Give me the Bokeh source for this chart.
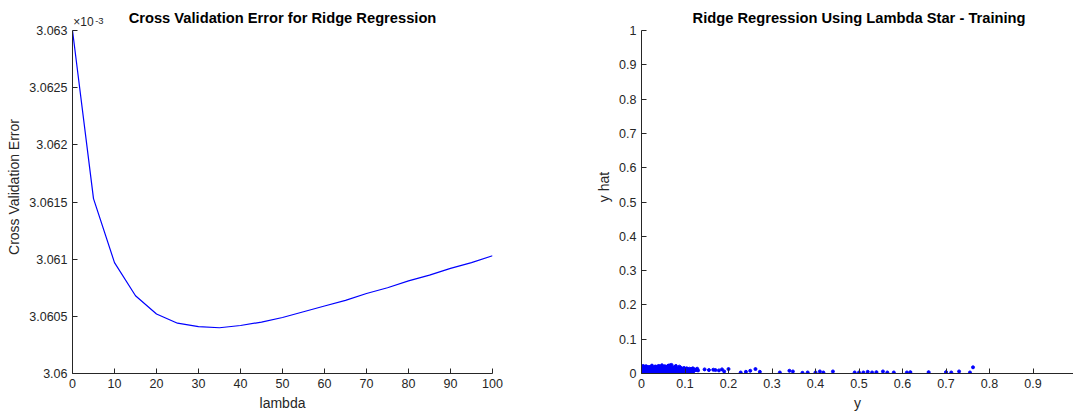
from bokeh.plotting import figure
from bokeh.layouts import row
from bokeh.models import FixedTicker, Label, Range1d
from bokeh.embed import file_html
from bokeh.resources import INLINE

# ---- data: cross validation error (units of 1e-3) ----
lambdas = [0, 5, 10, 15, 20, 25, 30, 35, 40, 45, 50, 55, 60, 65, 70, 75, 80, 85, 90, 95, 100]
cv_err = [3.06300, 3.06153, 3.06097, 3.06068, 3.06052, 3.06044, 3.06041, 3.06040, 3.06042,
          3.06045, 3.06049, 3.06054, 3.06059, 3.06064, 3.06070, 3.06075, 3.06081, 3.06086,
          3.06092, 3.06097, 3.06103]
left_xticks = [0, 10, 20, 30, 40, 50, 60, 70, 80, 90, 100]
left_yticks = [3.06, 3.0605, 3.061, 3.0615, 3.062, 3.0625, 3.063]
left_ylabels = ["3.06", "3.0605", "3.061", "3.0615", "3.062", "3.0625", "3.063"]
left_title = "Cross Validation Error for Ridge Regression"
exponent_base = "×10"
exponent_power = "-3"

# ---- data: training y vs y hat ----
y_true = [0.002, 0.004, 0.005, 0.006, 0.008, 0.009, 0.010, 0.011, 0.012, 0.013, 0.014, 0.015,
          0.016, 0.017, 0.018, 0.019, 0.020, 0.021, 0.022, 0.023, 0.024, 0.025, 0.026, 0.027,
          0.028, 0.029, 0.030, 0.031, 0.032, 0.033, 0.034, 0.035, 0.036, 0.037, 0.038, 0.039,
          0.040, 0.041, 0.042, 0.043, 0.044, 0.045, 0.046, 0.047, 0.048, 0.049, 0.050, 0.051,
          0.052, 0.053, 0.054, 0.055, 0.056, 0.057, 0.058, 0.059, 0.060, 0.061, 0.062, 0.063,
          0.064, 0.065, 0.066, 0.067, 0.068, 0.069, 0.070, 0.072, 0.074, 0.076, 0.078, 0.080,
          0.082, 0.084, 0.086, 0.088, 0.090, 0.092, 0.094, 0.096, 0.098, 0.100, 0.102, 0.104,
          0.106, 0.108, 0.110, 0.112, 0.114, 0.116, 0.118, 0.120, 0.122, 0.125, 0.128, 0.130,
          0.003, 0.007, 0.012, 0.017, 0.022, 0.027, 0.033, 0.038, 0.044, 0.049, 0.055, 0.060,
          0.066, 0.071, 0.077, 0.083, 0.089, 0.095, 0.101, 0.107, 0.113, 0.119,
          0.004, 0.010, 0.016, 0.024, 0.031, 0.039, 0.047, 0.053, 0.062, 0.069, 0.079, 0.087,
          0.145, 0.155, 0.165, 0.170, 0.178, 0.185, 0.190, 0.200, 0.228, 0.240, 0.250, 0.262,
          0.272, 0.318, 0.340, 0.348, 0.370, 0.382, 0.400, 0.410, 0.418, 0.440, 0.490, 0.500,
          0.510, 0.520, 0.530, 0.540, 0.555, 0.565, 0.580, 0.610, 0.618, 0.660, 0.700, 0.712,
          0.730, 0.755, 0.762]
y_hat = [0.010, 0.016, 0.006, 0.012, 0.018, 0.004, 0.014, 0.009, 0.020, 0.007, 0.015, 0.011,
         0.005, 0.017, 0.013, 0.008, 0.019, 0.010, 0.006, 0.016, 0.012, 0.018, 0.009, 0.014,
         0.005, 0.011, 0.017, 0.008, 0.013, 0.020, 0.006, 0.015, 0.010, 0.012, 0.018, 0.007,
         0.014, 0.021, 0.009, 0.016, 0.011, 0.006, 0.013, 0.019, 0.008, 0.015, 0.012, 0.017,
         0.010, 0.005, 0.014, 0.020, 0.009, 0.016, 0.012, 0.007, 0.018, 0.022, 0.011, 0.015,
         0.008, 0.013, 0.024, 0.010, 0.016, 0.012, 0.006, 0.014, 0.018, 0.009, 0.013, 0.016,
         0.011, 0.007, 0.015, 0.012, 0.017, 0.009, 0.014, 0.011, 0.016, 0.013, 0.008, 0.015,
         0.012, 0.010, 0.014, 0.009, 0.013, 0.011, 0.015, 0.008, 0.012, 0.010, 0.014, 0.009,
         0.003, 0.002, 0.004, 0.003, 0.002, 0.004, 0.003, 0.002, 0.004, 0.003, 0.002, 0.004,
         0.003, 0.002, 0.004, 0.003, 0.002, 0.005, 0.003, 0.004, 0.005, 0.006,
         0.022, 0.021, 0.019, 0.023, 0.020, 0.022, 0.024, 0.021, 0.023, 0.025, 0.022, 0.020,
         0.012, 0.010, 0.011, 0.010, 0.009, 0.012, 0.006, 0.013, 0.003, 0.005, 0.008, 0.013,
         0.005, 0.003, 0.008, 0.006, 0.002, 0.003, 0.003, 0.006, 0.003, 0.006, 0.003, 0.003,
         0.003, 0.005, 0.003, 0.004, 0.006, 0.003, 0.003, 0.003, 0.004, 0.004, 0.004, 0.003,
         0.006, 0.003, 0.018]
right_xticks = [0, 0.1, 0.2, 0.3, 0.4, 0.5, 0.6, 0.7, 0.8, 0.9, 1.0]
right_yticks = [0, 0.1, 0.2, 0.3, 0.4, 0.5, 0.6, 0.7, 0.8, 0.9, 1.0]
right_title = "Ridge Regression Using Lambda Star - Training"

FONT = "Liberation Sans"
AX = "#262626"
TOP_PAD = 30 / 343  # fraction of the axis span kept above the axes for the title


def style(p, xlabel, ylabel):
    p.outline_line_color = None
    p.grid.visible = False
    p.background_fill_color = "white"
    p.border_fill_color = "white"
    for ax in (p.xaxis[0], p.yaxis[0]):
        ax.axis_line_color = AX
        ax.major_tick_line_color = AX
        ax.major_tick_in = 5
        ax.major_tick_out = 0
        ax.minor_tick_line_color = None
        ax.major_label_text_font = FONT
        ax.major_label_text_font_size = "12.5px"
        ax.major_label_text_color = AX
        ax.axis_label_text_font = FONT
        ax.axis_label_text_font_size = "14px"
        ax.axis_label_text_font_style = "normal"
        ax.axis_label_text_color = AX
        ax.major_label_standoff = 5
        ax.axis_label_standoff = 4
    p.xaxis.axis_label = xlabel
    p.yaxis.axis_label = ylabel


def add_title(p, text, xc, y0, y1):
    span = y1 - y0
    p.add_layout(Label(x=xc, y=y1 + span * 13 / 343, text=text, text_font=FONT,
                       text_font_size="14.7px", text_font_style="bold", text_color="black",
                       text_align="center", text_baseline="middle"))


# ---- left chart ----
ly0, ly1 = left_yticks[0], left_yticks[-1]
lspan = ly1 - ly0
p1 = figure(width=560, height=417, output_backend="svg", toolbar_location=None,
            x_range=Range1d(0, 100), y_range=Range1d(ly0, ly1 + lspan * TOP_PAD),
            min_border_left=72, min_border_right=68, min_border_top=0, min_border_bottom=44)
p1.line(lambdas, cv_err, line_color="blue", line_width=1.2)
style(p1, "lambda", "Cross Validation Error")
p1.xaxis.ticker = FixedTicker(ticks=left_xticks)
p1.yaxis.ticker = FixedTicker(ticks=left_yticks)
p1.yaxis.bounds = (ly0, ly1)
p1.yaxis.major_label_overrides = {t: s for t, s in zip(left_yticks, left_ylabels)}
add_title(p1, left_title, 50, ly0, ly1)
p1.add_layout(Label(x=0.2, y=ly1 + lspan * 1.5 / 343, text=exponent_base,
                    text_font=FONT, text_font_size="12px", text_color=AX,
                    text_baseline="bottom", text_align="left"))
p1.add_layout(Label(x=5.4, y=ly1 + lspan * 7 / 343, text=exponent_power,
                    text_font=FONT, text_font_size="9.5px", text_color=AX,
                    text_baseline="bottom", text_align="left"))

# ---- right chart ----
ry0, ry1 = right_yticks[0], right_yticks[-1]
p2 = figure(width=513, height=417, output_backend="svg", toolbar_location=None,
            x_range=Range1d(0, 0.993), y_range=Range1d(ry0, ry1 + (ry1 - ry0) * TOP_PAD),
            min_border_left=81, min_border_right=0, min_border_top=0, min_border_bottom=44)
p2.scatter(y_true, y_hat, size=3, fill_color="blue", line_color="blue")
style(p2, "y", "y hat")
p2.xaxis.ticker = FixedTicker(ticks=right_xticks)
p2.yaxis.ticker = FixedTicker(ticks=right_yticks)
p2.yaxis.bounds = (ry0, ry1)
p2.yaxis.major_label_overrides = {0: "0", 1.0: "1"}
p2.xaxis.major_label_overrides = {0: "0"}
add_title(p2, right_title, 0.5, ry0, ry1)

layout = row(p1, p2)
open("out.html", "w").write(file_html(layout, INLINE))
